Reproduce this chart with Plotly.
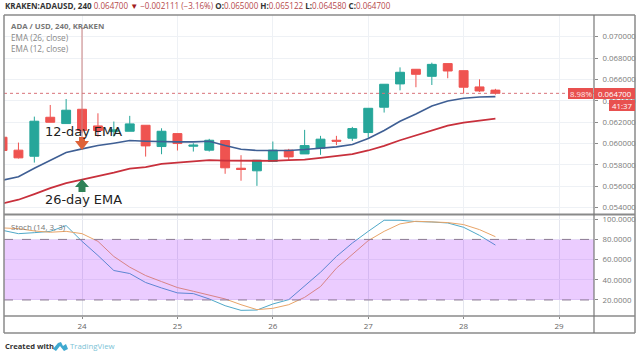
import pandas as pd
import plotly.graph_objects as go

# ---------- data ----------
opens = [.06059,.05938,.05881,.06246,.06187,.06321,.06165,.06112,.06115,.06171,.05972,.06093,.05975,.05938,.06028,.05769,
         .05745,.05832,.05938,.05903,.05956,.06031,.06050,.06103,.06340,.06558,.06695,.06629,.06748,.06682,.06530,.06500]
highs = [.06065,.06009,.06252,.06361,.06417,.06321,.06283,.06206,.06259,.06171,.06143,.06093,.06003,.06044,.06028,.05891,
         .05844,.06019,.05950,.06128,.06072,.06072,.06156,.06330,.06555,.06713,.06695,.06757,.06748,.06682,.06601,.06512]
lows = [.05930,.05860,.05822,.06199,.06187,.06100,.06065,.06065,.06115,.05878,.05900,.05935,.05925,.05925,.05717,.05652,
        .05604,.05832,.05847,.05903,.05894,.05985,.06025,.06053,.06290,.06498,.06527,.06548,.06611,.06467,.06483,.06458]
closes = [.05935,.05866,.06209,.06199,.06312,.06122,.06122,.06128,.06184,.05978,.06115,.06000,.05985,.06031,.05773,.05757,
          .05844,.05938,.05875,.05981,.06041,.06022,.06140,.06330,.06555,.06667,.06648,.06741,.06679,.06527,.06492,.06470]
ema12 = [.05657,.05689,.05769,.05841,.05916,.05950,.05981,.06003,.06028,.06022,.06016,.06016,.06016,.06022,.05981,.05947,
         .05935,.05935,.05935,.05944,.05956,.05969,.05991,.06047,.06122,.06209,.06277,.06352,.06399,.06424,.06436,.06439]
ema26 = [.05439,.05474,.05527,.05583,.05629,.05660,.05698,.05729,.05766,.05779,.05810,.05822,.05835,.05844,.05841,.05838,
         .05841,.05838,.05844,.05850,.05866,.05885,.05900,.05935,.05978,.06031,.06075,.06125,.06168,.06196,.06215,.06234]
stoch_k = [89.0,85.7,86.7,88.0,93.7,78.1,64.1,49.2,46.2,37.3,31.9,27.0,26.3,21.0,14.3,9.7,
           10.0,16.0,20.3,33.9,47.5,63.1,76.4,88.0,99.0,99.0,97.7,97.3,96.3,92.0,84.0,74.4]
stoch_d = [91.4,90.7,88.4,87.1,88.0,85.7,78.1,63.1,52.5,44.2,38.2,32.3,28.6,25.0,21.0,15.3,
           10.4,11.7,15.3,22.6,33.3,51.5,65.5,78.8,88.0,95.4,98.0,97.3,96.7,94.7,89.7,82.7]
price_ticks = [0.054,0.056,0.058,0.060,0.062,0.064,0.066,0.068,0.070]
stoch_ticks = [20,40,60,80,100]
day_ticks = ["2019-06-24","2019-06-25","2019-06-26","2019-06-27","2019-06-28","2019-06-29"]
day_labels = ["24","25","26","27","28","29"]
last_price = 0.0647

times = pd.date_range("2019-06-23 04:00", periods=len(opens), freq="4h")

W, H = 640, 356
L, R, T, B = 4, 594, 15, 316
SPLIT = 214.5

RED, GREEN = "#EF5350", "#26A69A"
GRID = "#EEF1F5"
FRAME = "#8A8A8A"
TICK = "#7A7A7A"
FONT = "Open Sans"

fig = go.Figure()
fig.add_trace(go.Candlestick(x=times, open=opens, high=highs, low=lows, close=closes,
    increasing=dict(line=dict(color=GREEN, width=1), fillcolor=GREEN),
    decreasing=dict(line=dict(color=RED, width=1), fillcolor=RED),
    whiskerwidth=0, xaxis="x", yaxis="y", showlegend=False))
fig.add_trace(go.Scatter(x=times, y=ema12, mode="lines", line=dict(color="#3F5F94", width=1.6), xaxis="x", yaxis="y", showlegend=False))
fig.add_trace(go.Scatter(x=times, y=ema26, mode="lines", line=dict(color="#C8303C", width=1.8), xaxis="x", yaxis="y", showlegend=False))
fig.add_trace(go.Scatter(x=times, y=stoch_k, mode="lines", line=dict(color="#4FA8C8", width=1), xaxis="x2", yaxis="y2", showlegend=False))
fig.add_trace(go.Scatter(x=times, y=stoch_d, mode="lines", line=dict(color="#E8A468", width=1), xaxis="x2", yaxis="y2", showlegend=False))

xrange_ = ["2019-06-23 04:22", "2019-06-29 08:48"]
split_dom = (B - SPLIT) / (B - T)
fig.update_layout(
    width=W, height=H, margin=dict(l=L, r=W - R, t=T, b=H - B, pad=0),
    paper_bgcolor="white", plot_bgcolor="white", showlegend=False, boxgap=0.2,
    font=dict(family=FONT, size=8, color=TICK),
    xaxis=dict(domain=[0, 1], anchor="y", range=xrange_, type="date", tickvals=day_ticks, ticktext=day_labels,
               showticklabels=False, showgrid=True, gridcolor=GRID, gridwidth=1, zeroline=False,
               rangeslider=dict(visible=False), ticks=""),
    yaxis=dict(domain=[split_dom, 1], anchor="x", side="right", range=[0.05336, 0.07203], tickvals=price_ticks,
               tickformat=".6f", showgrid=True, gridcolor=GRID, zeroline=False, ticks="outside", ticklen=3,
               ticklabelstandoff=3, tickcolor=FRAME, tickfont=dict(size=7.8, color=TICK)),
    xaxis2=dict(domain=[0, 1], anchor="y2", range=xrange_, type="date", tickvals=day_ticks, ticktext=day_labels,
                showgrid=True, gridcolor="#E4E6EE", zeroline=False, ticks="outside", ticklen=2, tickcolor=FRAME,
                tickfont=dict(size=8, color="#666666")),
    yaxis2=dict(domain=[0, split_dom], anchor="x2", side="right", range=[4.1, 104.7], tickvals=stoch_ticks,
                tickformat=".4f", showgrid=True, gridcolor=GRID, zeroline=False, ticks="outside", ticklen=3,
                ticklabelstandoff=3, tickcolor=FRAME, tickfont=dict(size=7.8, color=TICK)),
)

def frame_line(x0, y0, x1, y1, width=1.5, color=FRAME):
    return dict(type="line", xref="paper", yref="paper", x0=(x0 - L) / (R - L), x1=(x1 - L) / (R - L),
                y0=(B - y0) / (B - T), y1=(B - y1) / (B - T), line=dict(color=color, width=width), layer="above")

BOT = 333
shapes = [
    dict(type="rect", xref="x2 domain", yref="y2", x0=0, x1=1, y0=20, y1=80, fillcolor="rgba(153,0,255,0.2)",
         line=dict(width=0), layer="above"),
    dict(type="line", xref="x2 domain", yref="y2", x0=0, x1=1, y0=80, y1=80, line=dict(color="#8C7A94", width=1, dash="dash"), layer="above"),
    dict(type="line", xref="x2 domain", yref="y2", x0=0, x1=1, y0=20, y1=20, line=dict(color="#8C7A94", width=1, dash="dash"), layer="above"),
    dict(type="line", xref="x domain", yref="y", x0=0, x1=1, y0=last_price, y1=last_price, line=dict(color="#D9737A", width=1, dash="dot"), layer="above"),
    # vertical pointer line from the legend down to the arrow
    frame_line(82, 27, 82, 137, 1, "#C98080"),
    # frame
    frame_line(L, T, 635, T), frame_line(L, BOT, 635, BOT), frame_line(L, T, L, BOT), frame_line(635, T, 635, BOT),
    frame_line(L, SPLIT, 635, SPLIT, 2), frame_line(L, B, 635, B, 1.5), frame_line(R, T, R, BOT, 1.2, "#777777"),
    # value boxes
    dict(type="rect", xref="paper", yref="paper", x0=(568 - L) / (R - L), x1=(593 - L) / (R - L), y0=(B - 99) / (B - T), y1=(B - 88) / (B - T), fillcolor="#E8504F", line=dict(width=0), layer="above"),
    dict(type="rect", xref="paper", yref="paper", x0=(594 - L) / (R - L), x1=(635 - L) / (R - L), y0=(B - 99) / (B - T), y1=(B - 88) / (B - T), fillcolor="#E8504F", line=dict(width=0), layer="above"),
    dict(type="rect", xref="paper", yref="paper", x0=(609 - L) / (R - L), x1=(635 - L) / (R - L), y0=(B - 111) / (B - T), y1=(B - 100) / (B - T), fillcolor="#E8504F", line=dict(width=0), layer="above"),
]
# Pointer arrows and TradingView cloud logo (decoration, pixel-placed paths)
def pth(points):
    xs = [((x - L) / (R - L), (B - y) / (B - T)) for x, y in points]
    return "M" + " L".join(f"{a:.5f},{b:.5f}" for a, b in xs) + " Z"
shapes.append(dict(type="path", xref="paper", yref="paper", fillcolor="#DE6238", line=dict(width=0), layer="above",
    path=pth([(79, 137), (85, 137), (85, 141), (89, 141), (82, 150), (75, 141), (79, 141)])))
shapes.append(dict(type="path", xref="paper", yref="paper", fillcolor="#2F8258", line=dict(width=0), layer="above",
    path=pth([(82, 179), (89, 187), (85.5, 187), (85.5, 192), (78.5, 192), (78.5, 187), (75, 187)])))
shapes.append(dict(type="path", xref="paper", yref="paper", fillcolor="#3FA9D0", line=dict(width=0), layer="above",
    path=pth([(53, 349), (58, 343), (61, 342), (63, 346), (66, 344), (68, 349), (64, 351), (60, 346), (56, 351)])))
fig.update_layout(shapes=shapes)

def note(x, y, text, size=8, color="#555555", xanchor="left", family=FONT):
    fig.add_annotation(xref="paper", yref="paper", x=(x - L) / (R - L), y=(B - y) / (B - T), text=text, showarrow=False,
                       xanchor=xanchor, yanchor="middle", align="left", font=dict(size=size, color=color, family=family))

def c(t, col="#B5474A"):
    return f'<span style="color:{col}">{t}</span>'

note(3, 6, "<b>KRAKEN:ADAUSD, 240</b> " + c("0.064700") + " " + c("▼", "#A02020") + " " + c("−0.002111 (−3.16%)")
     + " <b>O:</b>" + c("0.065000") + " <b>H:</b>" + c("0.065122") + " <b>L:</b>" + c("0.064580") + " <b>C:</b>" + c("0.064700"),
     size=8.05, color="#333333")
note(8.5, 26, "<b>ADA / USD, 240, KRAKEN</b>", size=7.8, color="#777777")
note(8.5, 37, "EMA (26, close)", size=8.2, color="#888888")
note(8.5, 48, "EMA (12, close)", size=8.2, color="#888888")
note(8.5, 226, "Stoch (14, 3, 3)", size=8, color="#777777")
note(43, 131, "12-day EMA", size=12.9, color="#222222", family="DejaVu Sans")
note(43, 200, "26-day EMA", size=12.9, color="#222222", family="DejaVu Sans")
note(580.5, 93.5, "8.98%", size=7.8, color="#FFE8E8", xanchor="center")
note(615, 93.5, "0.064700", size=7.8, color="#FFFFFF", xanchor="center")
note(622, 105.5, "41:37", size=7.8, color="#FFFFFF", xanchor="center")
note(3, 346, "<b>Created with</b>", size=7.6, color="#333333")
note(68, 346, "TradingView", size=7.8, color="#7CC3D6")

# The page's default 8px body margin would shift the whole figure.
fig.write_html("out.html", config=dict(displayModeBar=False),
               post_script="document.documentElement.style.overflow='hidden';document.body.style.margin='0';")
